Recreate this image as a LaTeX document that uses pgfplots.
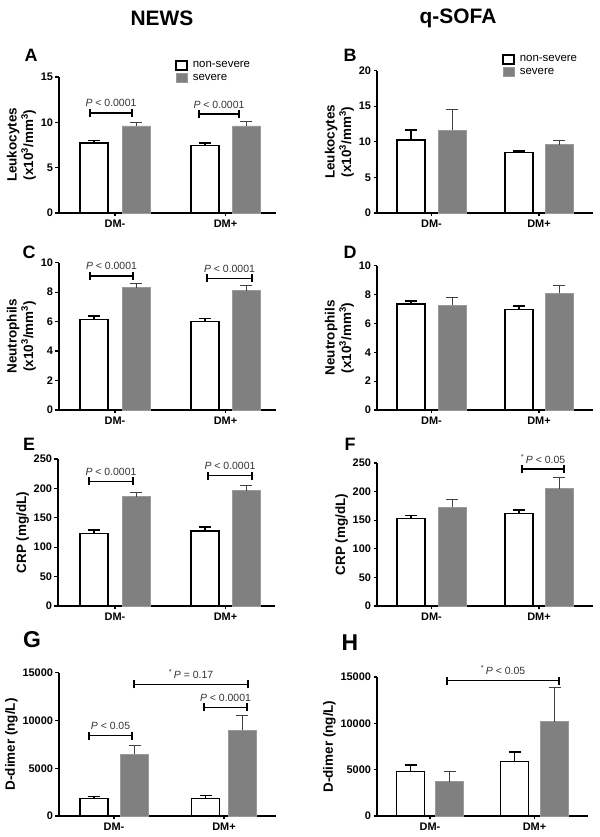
\documentclass[border=0pt]{standalone}
\usepackage{pgfplots}
\pgfplotsset{compat=1.18}
\usetikzlibrary{calc}
\usepackage{fontspec}
\setmainfont{Liberation Sans}
\definecolor{barfill}{HTML}{808080}
\definecolor{baredge}{HTML}{9A9A9A}
\definecolor{ptext}{HTML}{333333}
\pgfplotsset{
  panel/.style={
    scale only axis, width=217bp, anchor=south west,
    xmin=0, xmax=217, ymin=0,
    axis lines*=left, axis line style={-, line width=1.4bp, black},
    clip=false,
    tick align=outside, major tick length=3.5bp,
    tick style={line width=1.2bp, black},
    ticklabel style={font=\bfseries\fontsize{11}{12}\selectfont},
    yticklabel style={xshift=1bp},
    /pgf/number format/assume math mode=true,
    /pgf/number format/1000 sep={},
    scaled y ticks=false,
    ylabel style={font=\bfseries\fontsize{13.5}{16.5}\selectfont, align=center, yshift=-2bp},
    xticklabels={DM-,DM+},
    legend cell align=left,
  },
  wbar/.style={ybar, bar shift=0pt, bar width=28, fill=white, draw=black, line width=1.6bp,
    /pgfplots/error bars/y dir=plus, /pgfplots/error bars/y explicit,
    /pgfplots/error bars/error mark=|,
    /pgfplots/error bars/error bar style={line width=1.6bp, black},
    /pgfplots/error bars/error mark options={line width=1.6bp, mark size=6bp, black}},
  gbar/.style={ybar, bar shift=0pt, bar width=28, fill=barfill, draw=baredge, line width=0.8bp,
    /pgfplots/error bars/y dir=plus, /pgfplots/error bars/y explicit,
    /pgfplots/error bars/error mark=|,
    /pgfplots/error bars/error bar style={line width=1bp, black!75},
    /pgfplots/error bars/error mark options={line width=1bp, mark size=6bp, black!75}},
  mylegend/.style={
    legend style={at={#1}, anchor=north west, draw=none, fill=none, inner sep=0pt,
      row sep=2bp, font=\fontsize{11.5}{13}\selectfont,
      nodes={inner sep=1.5bp},
      /tikz/every odd column/.append style={column sep=3.5bp}},
    legend image code/.code={\draw[##1] (0bp,-4.5bp) rectangle (11bp,4.5bp);},
  },
}
\newcommand{\pbr}[4]{%
  \draw[line width=1.4bp] (axis cs:#1,#3) -- (axis cs:#2,#3);
  \draw[line width=1.4bp] ([yshift=-4bp]axis cs:#1,#3) -- ([yshift=4bp]axis cs:#1,#3);
  \draw[line width=1.4bp] ([yshift=-4bp]axis cs:#2,#3) -- ([yshift=4bp]axis cs:#2,#3);
  \node[anchor=base, font=\fontsize{10.5}{12}\selectfont, text=ptext] at ($([yshift=6bp]axis cs:#1,#3)!0.5!([yshift=6bp]axis cs:#2,#3)$) {#4};
}
\newcommand{\pt}{\textit{P}}
\begin{document}
\begin{tikzpicture}
\useasboundingbox (0,0) rectangle (600bp,837bp);
% column titles
\node[font=\bfseries\fontsize{21}{24}\selectfont] at (162bp,819bp) {NEWS};
\node[font=\bfseries\fontsize{21}{24}\selectfont] at (458bp,819bp) {q-SOFA};
% panel letters
\node[font=\bfseries\fontsize{18}{20}\selectfont] at (31bp,782bp) {A};
\node[font=\bfseries\fontsize{18}{20}\selectfont] at (350bp,782bp) {B};
\node[font=\bfseries\fontsize{18}{20}\selectfont] at (29bp,585bp) {C};
\node[font=\bfseries\fontsize{18}{20}\selectfont] at (350bp,585bp) {D};
\node[font=\bfseries\fontsize{18}{20}\selectfont] at (29bp,393bp) {E};
\node[font=\bfseries\fontsize{18}{20}\selectfont] at (350bp,393bp) {F};
\node[font=\bfseries\fontsize{23}{25}\selectfont] at (32bp,197bp) {G};
\node[font=\bfseries\fontsize{23}{25}\selectfont] at (350bp,194bp) {H};

% ---------- A ----------
\begin{axis}[panel, at={(59bp,624bp)}, height=136bp, ymax=15, ytick={0,5,10,15},
  xtick={56,166.5}, ylabel={Leukocytes\\(x10\textsuperscript{3}/mm\textsuperscript{3})},
  mylegend={(axis cs:116,16.9)}]
\addplot[wbar] coordinates {(35,7.7) +- (0,0.3) (146,7.45) +- (0,0.3)};
\addlegendentry{non-severe}
\addplot[gbar] coordinates {(77,9.6) +- (0,0.4) (187,9.6) +- (0,0.45)};
\addlegendentry{severe}
\pbr{31}{73}{11.05}{\pt{} < 0.0001}
\pbr{140}{180}{10.9}{\pt{} < 0.0001}
\end{axis}

% ---------- B ----------
\begin{axis}[panel, at={(377bp,624bp)}, height=142.3bp, width=216bp, xmax=216, ymax=20, ytick={0,5,10,15,20},
  xtick={54.5,162}, ylabel={Leukocytes\\(x10\textsuperscript{3}/mm\textsuperscript{3})},
  mylegend={(axis cs:125,22.35)}]
\addplot[wbar] coordinates {(34,10.3) +- (0,1.4) (142,8.5) +- (0,0.25)};
\addlegendentry{non-severe}
\addplot[gbar] coordinates {(75,11.6) +- (0,2.9) (182,9.6) +- (0,0.6)};
\addlegendentry{severe}
\end{axis}

% ---------- C ----------
\begin{axis}[panel, at={(59bp,427bp)}, height=147.3bp, ymax=10, ytick={0,2,4,6,8,10},
  xtick={56,166.5}, ylabel={Neutrophils\\(x10\textsuperscript{3}/mm\textsuperscript{3})}]
\addplot[wbar] coordinates {(35,6.15) +- (0,0.23) (146,6.0) +- (0,0.22)};
\addplot[gbar] coordinates {(77,8.3) +- (0,0.27) (187,8.1) +- (0,0.32)};
\pbr{31}{74}{9.1}{\pt{} < 0.0001}
\pbr{148}{193}{8.94}{\pt{} < 0.0001}
\end{axis}

% ---------- D ----------
\begin{axis}[panel, at={(377bp,427bp)}, height=144.3bp, width=216bp, xmax=216, ymax=10, ytick={0,2,4,6,8,10},
  xtick={54.5,162}, ylabel={Neutrophils\\(x10\textsuperscript{3}/mm\textsuperscript{3})}]
\addplot[wbar] coordinates {(34,7.35) +- (0,0.2) (142,6.97) +- (0,0.23)};
\addplot[gbar] coordinates {(75,7.25) +- (0,0.53) (182,8.08) +- (0,0.53)};
\end{axis}

% ---------- E ----------
\begin{axis}[panel, at={(58bp,231bp)}, height=147bp, ymax=250, ytick={0,50,100,150,200,250},
  xtick={57,167.5}, ylabel={CRP (mg/dL)}]
\addplot[wbar] coordinates {(36,123) +- (0,6) (147,128) +- (0,6)};
\addplot[gbar] coordinates {(78,186) +- (0,7) (188,196) +- (0,8.5)};
\pbr{31}{75}{212}{\pt{} < 0.0001}
\pbr{150}{194}{221.6}{\pt{} < 0.0001}
\end{axis}

% ---------- F ----------
\begin{axis}[panel, at={(377bp,231bp)}, height=143bp, width=216bp, xmax=216, ymax=250, ytick={0,50,100,150,200,250},
  xtick={54.5,162}, ylabel={CRP (mg/dL)}]
\addplot[wbar] coordinates {(34,153) +- (0,5) (142,162) +- (0,6)};
\addplot[gbar] coordinates {(75,173) +- (0,13) (182,205) +- (0,20)};
\pbr{145}{187}{239.5}{\textsuperscript{*}\,\pt{} < 0.05}
\end{axis}

% ---------- G ----------
\begin{axis}[panel, at={(59bp,21bp)}, height=143.3bp, ymax=15000, ytick={0,5000,10000,15000},
  xtick={55,165}, ylabel={D-dimer (ng/L)}]
\addplot[wbar] coordinates {(35,1850) +- (0,175) (146.5,1850) +- (0,280)};
\addplot[gbar] coordinates {(75.5,6450) +- (0,980) (183,9000) +- (0,1535)};
\pbr{30}{73}{8405}{\pt{} < 0.05}
\pbr{145}{188}{11372}{\pt{} < 0.0001}
\pbr{75}{189}{13779}{\textsuperscript{*}\,\pt{} = 0.17}
\end{axis}

% ---------- H ----------
\begin{axis}[panel, at={(377bp,21bp)}, height=139bp, width=211bp, xmax=211, ymax=15000, ytick={0,5000,10000,15000},
  xtick={53,157.5}, ylabel={D-dimer (ng/L)}]
\addplot[wbar] coordinates {(33.5,4800) +- (0,720) (137.5,5880) +- (0,1050)};
\addplot[gbar] coordinates {(72.5,3710) +- (0,1080) (177.5,10170) +- (0,3750)};
\pbr{70}{182}{14603}{\textsuperscript{*}\,\pt{} < 0.05}
\end{axis}
\end{tikzpicture}
\end{document}
